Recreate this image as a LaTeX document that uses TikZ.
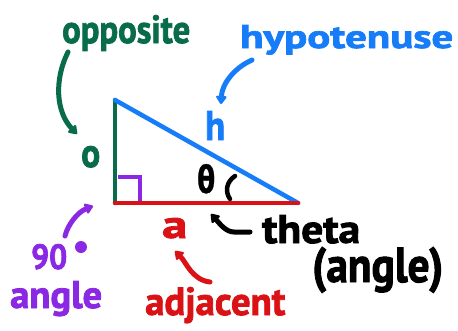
\documentclass[tikz,border=0pt]{standalone}
\usepackage{fontspec}
\setmainfont{PT Sans}[BoldFeatures={FakeBold=2}]
\newfontfamily\thfont{DejaVu Sans}[BoldFeatures={FakeBold=1}]
\usetikzlibrary{arrows.meta}
\definecolor{hgreen}{RGB}{8,108,74}
\definecolor{hblue}{RGB}{22,124,248}
\definecolor{hred}{RGB}{218,18,22}
\definecolor{hpurple}{RGB}{138,40,228}
\newcommand{\fitbox}[3]{\resizebox{#1pt}{#2pt}{#3}}
\tikzset{
  hw/.style={inner sep=0pt, anchor=base west, font=\bfseries},
  side/.style={line width=4.5pt, line cap=round},
  pen/.style={line width=5pt, line cap=round},
  tipA/.style={-{Triangle[round,length=9pt,width=12pt]}}
}
\begin{document}
\begin{tikzpicture}[x=1pt,y=-1pt]
\useasboundingbox (0,0) rectangle (458,330);
% vertices
\coordinate (T) at (115,100);
\coordinate (C) at (115,203);
\coordinate (R) at (298,203);
% triangle
\draw[side,hgreen] (T) -- (C);
\draw[side,hblue] (T) -- (R);
\draw[side,hred] (C) -- (R);
% right angle mark
\coordinate (sq1) at (118,177);
\coordinate (sq2) at (140,177);
\coordinate (sq3) at (140,201);
\draw[line width=4pt,hpurple,line join=miter] (sq1) -- (sq2) -- (sq3);
% angle arc
\coordinate (arcA) at (235,176);
\coordinate (arcB) at (230,199);
\draw[line width=4.5pt,black,line cap=round] (arcA) .. controls (226,182) and (225,192) .. (arcB);
\node[hw] (theta) at (197,193) {\fitbox{18}{29}{\thfont\bfseries θ}};
% side letters
\node[hw,text=hgreen] (o) at (81,167) {\fitbox{19}{21}{o}};
\node[hw,text=hblue] (h) at (205,140) {\fitbox{20}{29}{h}};
\node[hw,text=hred] (a) at (162,238) {\fitbox{25}{20}{a}};
% labels
\node[hw,text=hgreen] (opp) at (62,43) {\fitbox{128}{28}{opposite}};
\node[hw,text=hblue] (hyp) at (240,48) {\fitbox{213}{23}{hypotenuse}};
\node[hw,text=black] (thetaw) at (262,243) {\fitbox{98}{28}{theta}};
\node[hw,text=black] (angw) at (312,282) {\fitbox{131}{35}{(angle)}};
\node[hw,text=hred] (adj) at (145,315) {\fitbox{140}{28}{adjacent}};
\node[hw,text=hpurple] (ninety) at (31,269) {\fitbox{36}{25}{90}};
\node[hw,text=hpurple] (angp) at (10,308) {\fitbox{92}{27}{angle}};
\fill[hpurple] (81,247) circle (6);
% arrows
\coordinate (gs) at (68,52);
\coordinate (ge) at (77,134);
\draw[pen,hgreen,tipA] (gs) .. controls (54,80) and (56,112) .. (ge);
\coordinate (bs) at (252,60);
\coordinate (be) at (221,104);
\draw[pen,hblue,tipA] (bs) .. controls (234,68) and (222,84) .. (be);
\coordinate (ps) at (65,236);
\coordinate (pe) at (93,206);
\draw[pen,hpurple,tipA] (ps) .. controls (68,224) and (78,212) .. (pe);
\coordinate (rs) at (210,282);
\coordinate (re) at (175,251);
\draw[pen,hred,tipA] (rs) .. controls (192,280) and (186,262) .. (re);
\coordinate (ks) at (250,232);
\coordinate (ke) at (211,214);
\draw[pen,black,tipA] (ks) -- (234,232) .. controls (226,232) and (220,224) .. (ke);
\end{tikzpicture}
\end{document}
